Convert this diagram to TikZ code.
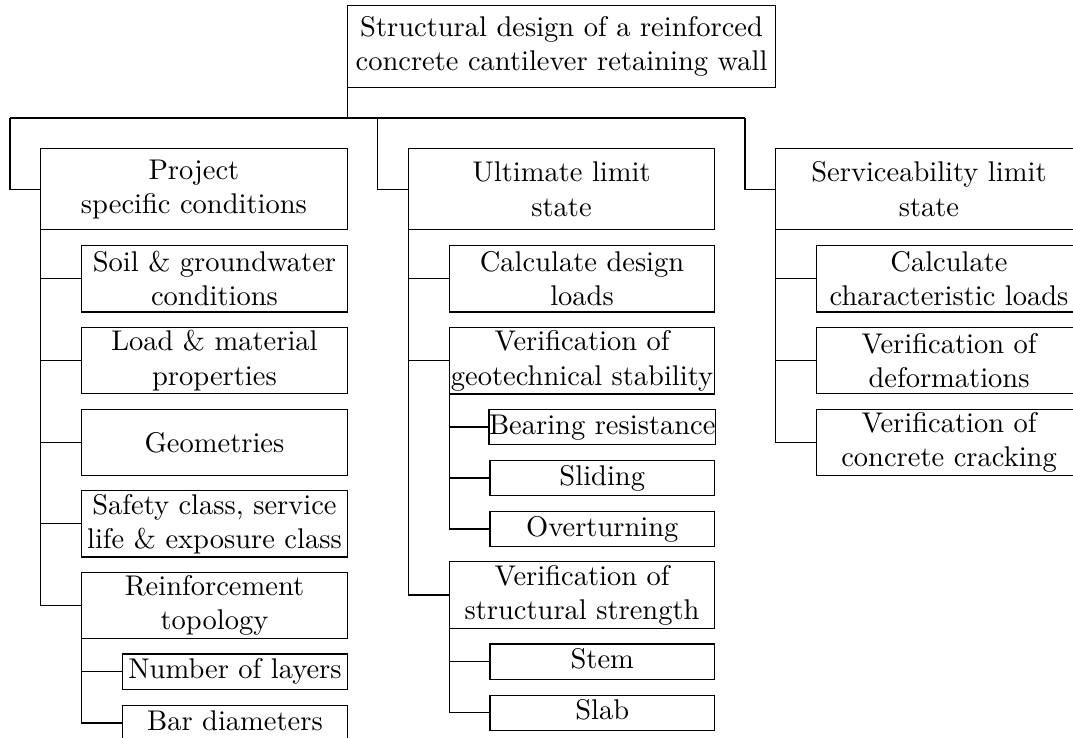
\documentclass[tikz,border=0pt]{standalone}
\begin{document}
\def\u{0.35088pt}
\begin{tikzpicture}[x=0.35088pt,y=-0.35088pt,
  box/.style={draw,inner sep=0pt,outer sep=0pt,align=center},
  rootbox/.style={box,minimum width=428.5*\u,minimum height=82*\u},
  lvlone/.style={box,minimum width=306.5*\u,minimum height=81*\u},
  lvltwo/.style={box,minimum width=265.5*\u,minimum height=66.3*\u},
  lvlthree/.style={draw,inner sep=0pt,outer sep=0pt,minimum width=224.5*\u,minimum height=35.4*\u,text height=6.9pt,text depth=1.9pt},
  conn/.style={draw}]
\useasboundingbox (0,0) rectangle (1073,737);
\clip (0,0) rectangle (1073,737);

% root
\node[rootbox] (root) at (561.55,46.7) {Structural design of a reinforced\\concrete cantilever retaining wall};

% level 1
\node[lvlone] (P) at (193.95,189.2) {Project\\specific conditions};
\node[lvlone] (U) at (561.55,189.2) {Ultimate limit\\state};
\node[lvlone] (S) at (928.95,189.2) {Serviceability limit\\state};

% column 1
\node[lvltwo] (p1) at (214.45,278.8) {Soil \& groundwater\\conditions};
\node[lvltwo] (p2) at (214.45,360.6) {Load \& material\\properties};
\node[lvltwo] (p3) at (214.45,442.3) {Geometries};
\node[lvltwo] (p4) at (214.45,523.9) {Safety class, service\\life \& exposure class};
\node[lvltwo] (p5) at (214.45,605.5) {Reinforcement\\topology};
\node[lvlthree] (p51) at (234.95,671.65) {Number of layers};
\node[lvlthree] (p52) at (234.95,723.0) {Bar diameters};

% column 2
\node[lvltwo] (u1) at (582.05,278.8) {Calculate design\\loads};
\node[lvltwo] (u2) at (582.05,360.85) {Verification of\\geotechnical stability};
\node[lvlthree] (u21) at (602.25,427.0) {Bearing resistance};
\node[lvlthree] (u22) at (602.25,478.0) {Sliding};
\node[lvlthree] (u23) at (602.25,529.0) {Overturning};
\node[lvltwo] (u3) at (582.05,595.0) {Verification of\\structural strength};
\node[lvlthree] (u31) at (602.25,661.7) {Stem};
\node[lvlthree] (u32) at (602.25,712.85) {Slab};

% column 3
\node[lvltwo] (s1) at (949.05,278.8) {Calculate\\characteristic loads};
\node[lvltwo] (s2) at (949.05,360.6) {Verification of\\deformations};
\node[lvltwo] (s3) at (949.05,442.3) {Verification of\\concrete cracking};

% bus
\coordinate (b1) at (10,118);
\coordinate (b2) at (377.7,118);
\coordinate (b3) at (745,118);
\draw[conn] (root.south west) |- (b1);
\draw[conn] (root.south west) |- (b3);
\draw[conn] (b1) |- (P.west);
\draw[conn] (b2) |- (U.west);
\draw[conn] (b3) |- (S.west);

% column connectors
\foreach \c in {p1,p2,p3,p4,p5} \draw[conn] (P.south west) |- (\c.west);
\foreach \c in {p51,p52} \draw[conn] (p5.south west) |- (\c.west);
\foreach \c in {u1,u2,u3} \draw[conn] (U.south west) |- (\c.west);
\foreach \c in {u21,u22,u23} \draw[conn] (u2.south west) |- (\c.west);
\foreach \c in {u31,u32} \draw[conn] (u3.south west) |- (\c.west);
\foreach \c in {s1,s2,s3} \draw[conn] (S.south west) |- (\c.west);
\end{tikzpicture}
\end{document}
